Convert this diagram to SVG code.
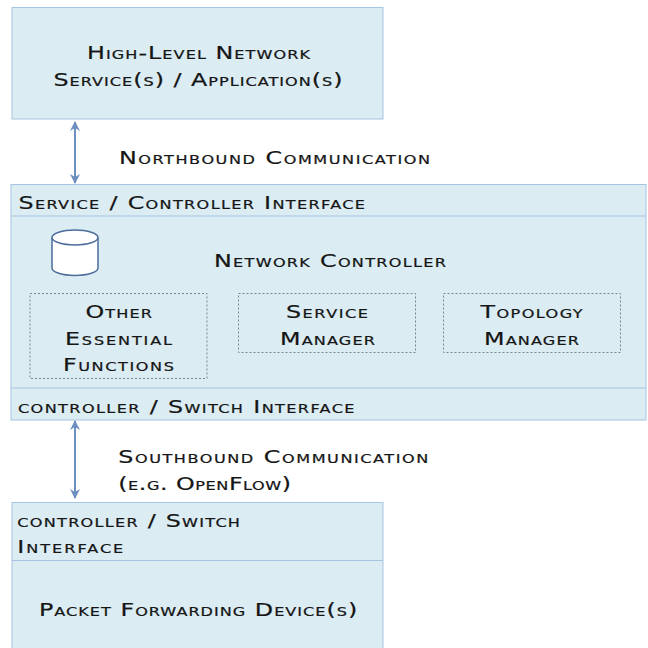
<svg xmlns="http://www.w3.org/2000/svg" width="648" height="648" viewBox="0 0 648 648">
<defs>
<style>
.box{fill:#dbecf3;stroke:#a6c5e2;stroke-width:1}
.div{stroke:#a6c5e2;stroke-width:1;fill:none}
.dot{fill:none;stroke:#6b6b6b;stroke-width:0.8;stroke-dasharray:2,2}
.t{font-family:"DejaVu Sans",sans-serif;font-variant:small-caps;font-size:17px;fill:#151515;stroke:#151515;stroke-width:0.2}
.arr{stroke:#6c8fbf;stroke-width:2;fill:none}
</style>
<marker id="ah" viewBox="0 0 10 10" refX="9" refY="5" markerWidth="5" markerHeight="5" orient="auto-start-reverse" markerUnits="strokeWidth">
<path d="M0,0 L10,5 L0,10 L3,5 z" fill="#6c8fbf"/>
</marker>
</defs>
<rect width="648" height="648" fill="#fff"/>
<g id="app">
<rect class="box" x="12" y="7.5" width="371" height="111.5"/>
<g transform="scale(1.4,1)">
<text class="t" x="62.14" y="59" textLength="159.29" lengthAdjust="spacing">High-Level Network</text>
<text class="t" x="38.21" y="86" textLength="206.43" lengthAdjust="spacing">Service(s) / Application(s)</text>
</g>
</g>
<g id="controller">
<rect class="box" x="11" y="184.5" width="635" height="235.5"/>
<line class="div" x1="11" y1="216" x2="646" y2="216"/>
<line class="div" x1="11" y1="388" x2="646" y2="388"/>
<g transform="scale(1.4,1)">
<text class="t" x="13.21" y="209" textLength="247.5" lengthAdjust="spacing">Service / Controller Interface</text>
<text class="t" x="152.86" y="267.5" textLength="165.71" lengthAdjust="spacing">Network Controller</text>
<text class="t" x="12.86" y="413" textLength="240.36" lengthAdjust="spacing">controller / Switch Interface</text>
</g>
</g>
<g id="db">
<path d="M52,237.5 L52,268 A23,7.5 0 0 0 98,268 L98,237.5" fill="#fff" stroke="#4b6d9c" stroke-width="1.5"/>
<ellipse cx="75" cy="237.5" rx="23" ry="7.5" fill="#fff" stroke="#4b6d9c" stroke-width="1.5"/>
</g>
<g id="other">
<rect class="dot" x="30" y="293.5" width="177" height="85"/>
<g transform="scale(1.4,1)">
<text class="t" x="61.07" y="318.3" textLength="47.5" lengthAdjust="spacing">Other</text>
<text class="t" x="46.43" y="345" textLength="76.43" lengthAdjust="spacing">Essential</text>
<text class="t" x="45" y="371" textLength="79.29" lengthAdjust="spacing">Functions</text>
</g>
</g>
<g id="service">
<rect class="dot" x="238.5" y="293.5" width="177" height="59"/>
<g transform="scale(1.4,1)">
<text class="t" x="204.29" y="318.3" textLength="58.57" lengthAdjust="spacing">Service</text>
<text class="t" x="200" y="345" textLength="67.86" lengthAdjust="spacing">Manager</text>
</g>
</g>
<g id="topology">
<rect class="dot" x="443.5" y="293.5" width="177" height="59"/>
<g transform="scale(1.4,1)">
<text class="t" x="343.29" y="318.3" textLength="72.86" lengthAdjust="spacing">Topology</text>
<text class="t" x="345.71" y="345" textLength="67.86" lengthAdjust="spacing">Manager</text>
</g>
</g>
<g id="device">
<rect class="box" x="12" y="502.5" width="371" height="150"/>
<line class="div" x1="12" y1="560.5" x2="383" y2="560.5"/>
<g transform="scale(1.4,1)">
<text class="t" x="12.36" y="527" textLength="159.07" lengthAdjust="spacing">controller / Switch</text>
<text class="t" x="12.36" y="553" textLength="75.71" lengthAdjust="spacing">Interface</text>
<text class="t" x="27.86" y="616" textLength="227.36" lengthAdjust="spacing">Packet Forwarding Device(s)</text>
</g>
</g>
<g id="connectors">
<line class="arr" x1="75" y1="122" x2="75" y2="183" marker-start="url(#ah)" marker-end="url(#ah)"/>
<line class="arr" x1="75" y1="421" x2="75" y2="498" marker-start="url(#ah)" marker-end="url(#ah)"/>
<g transform="scale(1.4,1)">
<text class="t" x="85" y="164" textLength="222.14" lengthAdjust="spacing">Northbound Communication</text>
<text class="t" x="84.5" y="463.3" textLength="221.43" lengthAdjust="spacing">Southbound Communication</text>
<text class="t" x="84.5" y="490" textLength="123.36" lengthAdjust="spacing">(e.g. OpenFlow)</text>
</g>
</g>
</svg>
